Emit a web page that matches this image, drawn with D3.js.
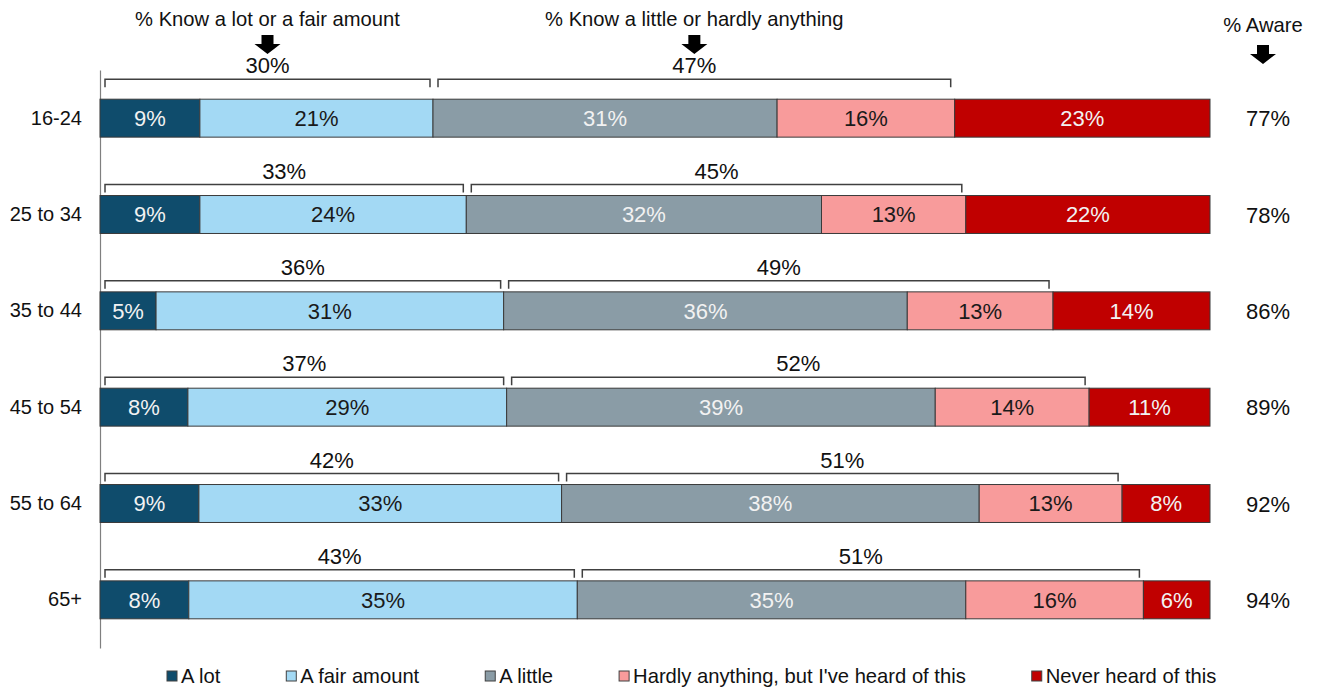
<!DOCTYPE html>
<html>
<head>
<meta charset="utf-8">
<script src="https://cdn.jsdelivr.net/npm/d3@7"></script>
<style>
  body { margin: 0; background: #fff; }
  svg text { font-family: "Liberation Sans", Arial, sans-serif; }
</style>
</head>
<body>
<script>
(function () {

  // age groups, top to bottom
  let groups = ['16-24', '25 to 34', '35 to 44', '45 to 54', '55 to 64', '65+'];

  let seriesNames = ['A lot', 'A fair amount', 'A little', "Hardly anything, but I've heard of this", 'Never heard of this'];

  let aLot       = [9, 9, 5, 8, 9, 8];
  let fairAmount = [21, 24, 31, 29, 33, 35];
  let aLittle    = [31, 32, 36, 39, 38, 35];
  let hardly     = [16, 13, 13, 14, 13, 16];
  let never      = [23, 22, 14, 11, 8, 6];

  // net figures printed over the brackets and on the right
  let knowLot    = [30, 33, 36, 37, 42, 43];
  let knowLittle = [47, 45, 49, 52, 51, 51];
  let aware      = [77, 78, 86, 89, 92, 94];

  let colors     = ['#0f4c6c', '#a3d9f4', '#8a9ca6', '#f89b9b', '#c00000'];
  let textColors = ['#f2f2f2', '#1a1a1a', '#f2f2f2', '#1a1a1a', '#f2f2f2'];

  let width = 1317, height = 689;

  let svg = d3.select('body').append('svg')
      .attr('width', width)
      .attr('height', height);

  let x = d3.scaleLinear().domain([0, 1]).range([100, 1210]);

  let y = d3.scaleBand()
      .domain(groups)
      .range([70, 648])
      .paddingInner(0.606)
      .paddingOuter(0.303);

  // left axis with category labels
  let yAxis = d3.axisLeft(y).tickSize(0).tickSizeOuter(0).tickPadding(18);
  let axisG = svg.append('g')
      .attr('transform', 'translate(' + x(0) + ',0)')
      .call(yAxis);
  axisG.select('.domain').attr('stroke', '#7f7f7f').attr('stroke-width', 1.2);
  axisG.selectAll('text')
      .attr('font-size', 20)
      .attr('fill', '#111')
      .style('font-family', '"Liberation Sans", Arial, sans-serif');

  let series = [aLot, fairAmount, aLittle, hardly, never];

  let rows = groups.map(function (g, i) {
    let vals = series.map(function (s) { return s[i]; });
    let total = d3.sum(vals);
    let acc = 0;
    let segs = vals.map(function (v, k) {
      let s = { k: k, v: v, x0: acc / total, x1: (acc + v) / total };
      acc += v;
      return s;
    });
    return { group: g, i: i, segs: segs };
  });

  let rowG = svg.selectAll('g.row').data(rows).enter().append('g')
      .attr('class', 'row')
      .attr('transform', function (d) { return 'translate(0,' + y(d.group) + ')'; });

  let bh = y.bandwidth();

  rowG.selectAll('rect').data(function (d) { return d.segs; }).enter().append('rect')
      .attr('x', function (d) { return x(d.x0); })
      .attr('y', 0)
      .attr('width', function (d) { return x(d.x1) - x(d.x0); })
      .attr('height', bh)
      .attr('fill', function (d) { return colors[d.k]; })
      .attr('stroke', '#3a3a3a')
      .attr('stroke-width', 1);

  rowG.selectAll('text.val').data(function (d) { return d.segs; }).enter().append('text')
      .attr('class', 'val')
      .attr('x', function (d) { return (x(d.x0) + x(d.x1)) / 2; })
      .attr('y', bh / 2 + 8)
      .attr('text-anchor', 'middle')
      .attr('font-size', 22)
      .attr('fill', function (d) { return textColors[d.k]; })
      .text(function (d) { return d.v + '%'; });

  // brackets over the bars
  function bracket(x0, x1, yb) {
    return 'M' + x0 + ',' + (yb + 8) + 'V' + yb + 'H' + x1 + 'V' + (yb + 8);
  }

  let bracketInfo = [];
  rowG.each(function (d) {
    let g = d3.select(this);
    let lift = d.i === 0 ? 9 : 0;
    let yb = -11 - lift;
    let mid = x(d.segs[1].x1);
    let end = x(d.segs[3].x1);
    let b1 = [x(0) + 5, mid - 3];
    let b2 = [mid + 5, end - 4];
    [b1, b2].forEach(function (b, j) {
      g.append('path')
        .attr('d', bracket(b[0], b[1], yb))
        .attr('fill', 'none')
        .attr('stroke', '#404040')
        .attr('stroke-width', 1.5);
      g.append('text')
        .attr('x', (b[0] + b[1]) / 2)
        .attr('y', yb - 6)
        .attr('text-anchor', 'middle')
        .attr('font-size', 22)
        .attr('fill', '#111')
        .text((j === 0 ? knowLot[d.i] : knowLittle[d.i]) + '%');
    });
    if (d.i === 0) bracketInfo = [(b1[0] + b1[1]) / 2, (b2[0] + b2[1]) / 2];
  });

  // aware column
  let awareX = 1268;
  svg.selectAll('text.aware').data(aware).enter().append('text')
      .attr('class', 'aware')
      .attr('x', awareX)
      .attr('y', function (d, i) { return y(groups[i]) + bh / 2 + 8; })
      .attr('text-anchor', 'middle')
      .attr('font-size', 22)
      .attr('fill', '#111')
      .text(function (d) { return d + '%'; });

  // headers with down arrows
  function arrow(cx, top) {
    return 'M' + (cx - 6) + ',' + top + 'H' + (cx + 6) + 'V' + (top + 9) +
      'H' + (cx + 13) + 'L' + cx + ',' + (top + 19) + 'L' + (cx - 13) + ',' + (top + 9) +
      'H' + (cx - 6) + 'Z';
  }

  let headers = [
    { label: '% Know a lot or a fair amount', cx: bracketInfo[0], ty: 26, ay: 35 },
    { label: '% Know a little or hardly anything', cx: bracketInfo[1], ty: 26, ay: 35 },
    { label: '% Aware', cx: 1263, ty: 32, ay: 45 }
  ];

  headers.forEach(function (h) {
    svg.append('text')
      .attr('x', h.cx)
      .attr('y', h.ty)
      .attr('text-anchor', 'middle')
      .attr('font-size', 20.2)
      .attr('fill', '#111')
      .text(h.label);
    svg.append('path')
      .attr('d', arrow(h.cx, h.ay))
      .attr('fill', '#000');
  });

  // legend
  let legend = svg.append('g').attr('transform', 'translate(167,671)');
  let lx = 0;
  seriesNames.forEach(function (name, k) {
    let item = legend.append('g').attr('transform', 'translate(' + lx + ',0)');
    item.append('rect')
      .attr('width', 10).attr('height', 10)
      .attr('fill', colors[k])
      .attr('stroke', '#404040')
      .attr('stroke-width', 1);
    let t = item.append('text')
      .attr('x', 14)
      .attr('y', 12)
      .attr('font-size', 20.2)
      .attr('fill', '#111')
      .text(name);
    lx += 14 + t.node().getComputedTextLength() + 66;
  });

})();
</script>
</body>
</html>
